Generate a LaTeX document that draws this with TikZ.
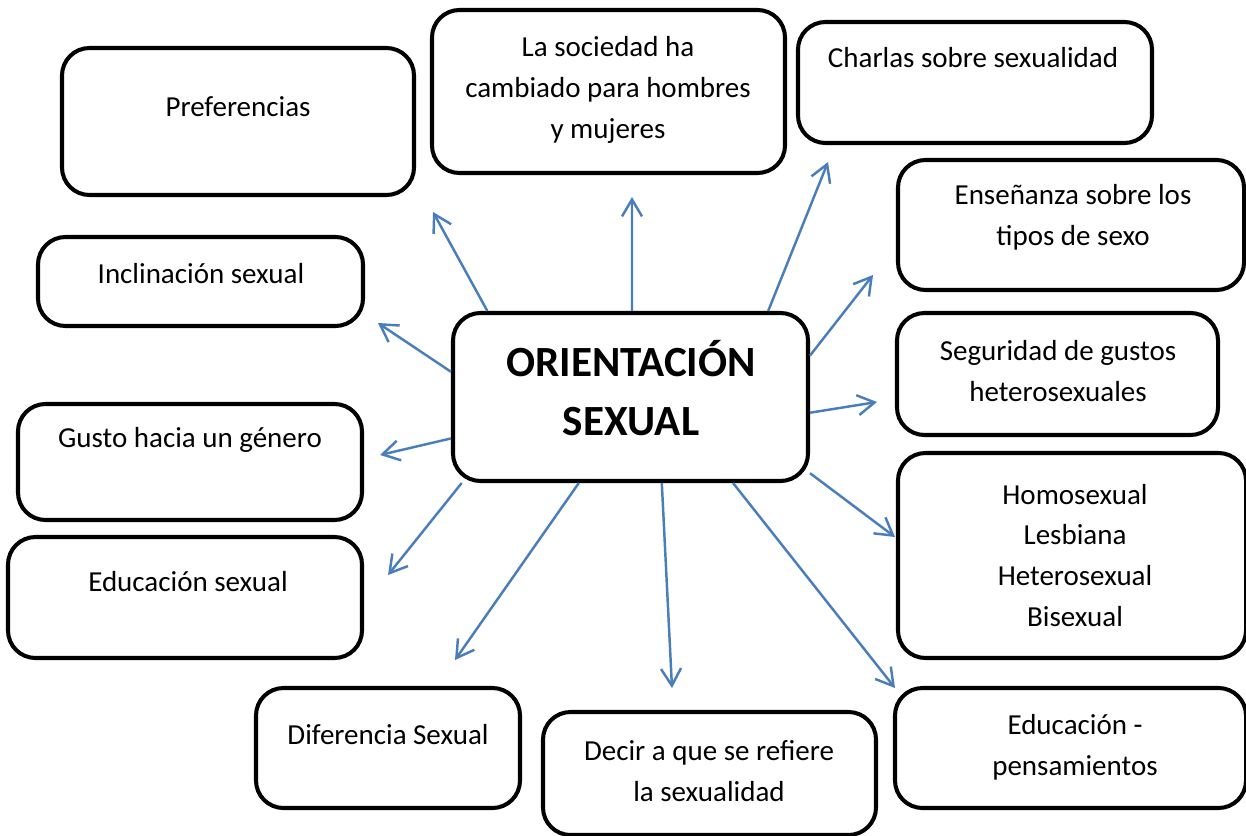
\documentclass[tikz,border=0pt]{standalone}
\usepackage{fontspec}
\setmainfont{Carlito}
\usepackage{tikz}
\usetikzlibrary{arrows.meta}
\definecolor{azul}{RGB}{74,126,187}

\begin{document}
\begin{tikzpicture}
			[caja/.style={draw, line width=2.3pt, rounded corners=0.55cm},
			 texto/.style={align=center, font=\fontsize{16.5}{23.3}\selectfont},
			 flecha/.style={draw=azul, line width=1.4pt, -{Straight Barb[length=3.4mm,width=4mm]}},]
			\useasboundingbox (0,0) rectangle (24.92,16.7);

			\node[caja, minimum width=7.1cm, minimum height=3.36cm] (centro) at (12.61,8.76) {};
			\node[align=center, font=\fontsize{24.5}{33.6}\selectfont\bfseries] (centro-t) at (12.62,8.93) {ORIENTACIÓN\\SEXUAL};

			\node[caja, minimum width=7.04cm, minimum height=2.94cm] (pref) at (4.76,14.27) {};
			\node[caja, minimum width=7.06cm, minimum height=3.26cm] (soc) at (12.17,14.87) {};
			\node[caja, minimum width=7.08cm, minimum height=2.42cm] (charlas) at (19.5,15.05) {};
			\node[caja, minimum width=6.92cm, minimum height=2.6cm] (ens) at (21.42,12.2) {};
			\node[caja, minimum width=6.42cm, minimum height=2.44cm] (seg) at (21.15,9.22) {};
			\node[caja, minimum width=6.96cm, minimum height=4.1cm] (tipos) at (21.44,5.59) {};
			\node[caja, minimum width=7.02cm, minimum height=2.4cm] (edupen) at (21.41,1.74) {};
			\node[caja, minimum width=6.66cm, minimum height=2.46cm] (decir) at (14.19,1.23) {};
			\node[caja, minimum width=5.28cm, minimum height=2.4cm] (dif) at (7.76,1.74) {};
			\node[caja, minimum width=7.08cm, minimum height=2.42cm] (edusex) at (3.7,4.75) {};
			\node[caja, minimum width=6.88cm, minimum height=2.32cm] (gusto) at (3.8,7.46) {};
			\node[caja, minimum width=6.5cm, minimum height=1.78cm] (incl) at (4.01,11.07) {};

			\node[texto] (pref-t) at (4.76,14.56) {Preferencias};
			\node[texto] (soc-t) at (12.16,14.9) {La sociedad ha\\cambiado para hombres\\y mujeres};
			\node[texto] (charlas-t) at (19.46,15.54) {Charlas sobre sexualidad};
			\node[texto] (ens-t) at (21.46,12.35) {Enseñanza sobre los\\tipos de sexo};
			\node[texto] (seg-t) at (21.16,9.28) {Seguridad de gustos\\heterosexuales};
			\node[texto] (tipos-t) at (21.5,5.59) {Homosexual\\Lesbiana\\Heterosexual\\Bisexual};
			\node[texto] (edupen-t) at (21.5,1.76) {Educación -\\pensamientos};
			\node[texto] (decir-t) at (14.18,1.28) {Decir a que se refiere\\la sexualidad};
			\node[texto] (dif-t) at (7.76,2.0) {Diferencia Sexual};
			\node[texto] (edusex-t) at (3.76,5.06) {Educación sexual};
			\node[texto] (gusto-t) at (3.8,7.9) {Gusto hacia un género};
			\node[texto] (incl-t) at (4.02,11.22) {Inclinación sexual};

			\coordinate (a-pref) at (8.66,12.46);
			\coordinate (a-soc) at (12.64,12.76);
			\coordinate (a-charlas) at (16.56,13.46);
			\coordinate (a-ens) at (17.46,11.2);
			\coordinate (a-seg) at (17.54,8.66);
			\coordinate (a-tipos) at (17.9,5.96);
			\coordinate (a-edupen) at (17.9,2.94);
			\coordinate (a-decir) at (13.44,2.94);
			\coordinate (a-dif) at (9.1,3.5);
			\coordinate (a-edusex) at (7.76,5.2);
			\coordinate (a-gusto) at (7.6,7.6);
			\coordinate (a-incl) at (7.56,10.24);

			\draw[flecha] (centro.149.5) -- (a-pref);
			\draw[flecha] (centro.89) -- (a-soc);
			\draw[flecha] (centro.32.9) -- (a-charlas);
			\draw[flecha] (centro.13) -- (a-ens);
			\draw[flecha] (centro.-5.8) -- (a-seg);
			\draw[flecha] (centro.-23.7) -- (a-tipos);
			\draw[flecha] (centro.-40.5) -- (a-edupen);
			\draw[flecha] (centro.-70.9) -- (a-decir);
			\draw[flecha] (centro.-121.4) -- (a-dif);
			\draw[flecha] (centro.-153.5) -- (a-edusex);
			\draw[flecha] (centro.-167.2) -- (a-gusto);
			\draw[flecha] (centro.172.3) -- (a-incl);
\end{tikzpicture}
\end{document}
